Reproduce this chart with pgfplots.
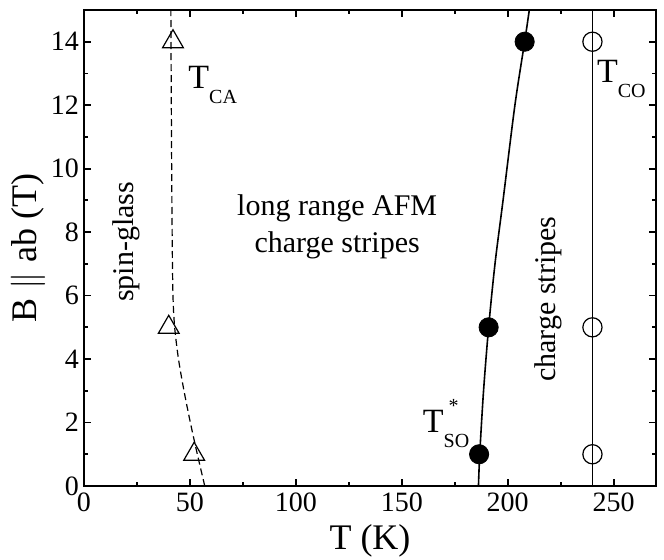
\documentclass[border=0pt]{standalone}
\usepackage{fontspec}
\setmainfont{Liberation Serif}
\usepackage{pgfplots}
\pgfplotsset{compat=1.18}
\begin{document}
\begin{tikzpicture}
\useasboundingbox (-42pt,-37pt) rectangle (290pt,243pt);
\begin{axis}[
  scale only axis, width=286pt, height=238pt,
  at={(0,0)}, anchor=south west,
  xmin=0, xmax=270, ymin=0, ymax=15,
  xtick={0,50,...,250}, ytick={0,2,...,14},
  minor x tick num=1, minor y tick num=1,
  tick align=inside, xtick pos=both, ytick pos=both,
  xticklabel pos=lower, yticklabel pos=left,
  major tick length=3.5pt, minor tick length=2pt,
  every tick/.style={black, line width=0.9pt},
  axis line style={line width=1.2pt},
  tick label style={font=\fontsize{14}{16}\selectfont},
  yticklabel style={xshift=1pt},
  /pgf/number format/assume math mode=true,
  xlabel={T (K)}, ylabel={B $\parallel$ ab (T)},
  label style={font=\fontsize{18}{20}\selectfont},
  x label style={at={(axis description cs:0.5,-0.1155)}, anchor=center},
  y label style={at={(axis description cs:-0.098,0.5)}, anchor=center},
]
% T_CA fit (dashed)
\addplot[black, line width=0.6pt, dash pattern=on 3.5pt off 2pt, smooth] coordinates {
  (57.0,0) (53.5,1) (50.2,2) (47.2,3) (44.6,4) (42.8,5) (42.0,6) (41.6,8) (41.3,11) (41.0,15)
};
% T_SO fit (solid)
\addplot[black, line width=0.8pt, smooth] coordinates {
  (186.2,0) (186.8,1) (188.6,3) (191.0,5) (194.0,7) (197.8,9) (203.4,12) (208.0,14) (210.2,15)
};
% T_CO line
\addplot[black, line width=0.45pt] coordinates {(240,0) (240,15)};
% T_CA data
\addplot[only marks, mark=triangle, mark size=6pt, mark options={black, fill=white, line width=0.6pt}] coordinates {
  (42,14) (40,5) (52,1)
};
% T_SO data
\addplot[only marks, mark=*, mark size=4.8pt, mark options={black, fill=black}] coordinates {
  (208,14) (191,5) (186.5,1)
};
% T_CO data
\addplot[only marks, mark=o, mark size=4.8pt, mark options={black, fill=white, line width=0.6pt}] coordinates {
  (240,14) (240,5) (240,1)
};
\node[anchor=base west, font=\fontsize{17}{20}\selectfont, inner sep=0pt] at (axis cs:49.1,12.54)
  {T\raisebox{-7.5pt}{\fontsize{10}{12}\selectfont CA}};
\node[anchor=base west, font=\fontsize{17}{20}\selectfont, inner sep=0pt] at (axis cs:242,12.70)
  {T\raisebox{-7.5pt}{\fontsize{10}{12}\selectfont CO}};
\node[anchor=base west, font=\fontsize{17}{20}\selectfont, inner sep=0pt] at (axis cs:159.8,1.67)
  {T\rlap{\hspace{2.5pt}\raisebox{10pt}{\fontsize{10}{12}\selectfont *}}\raisebox{-7.5pt}{\fontsize{10}{12}\selectfont SO}};
\node[rotate=90, font=\fontsize{15}{18}\selectfont] at (axis cs:20.2,7.69) {spin-glass};
\node[rotate=90, font=\fontsize{15}{18}\selectfont] at (axis cs:219,5.89) {charge stripes};
\node[align=center, font=\fontsize{15}{18.3}\selectfont] at (axis cs:119.5,8.17) {long range AFM\\charge stripes};
\end{axis}
\end{tikzpicture}
\end{document}
